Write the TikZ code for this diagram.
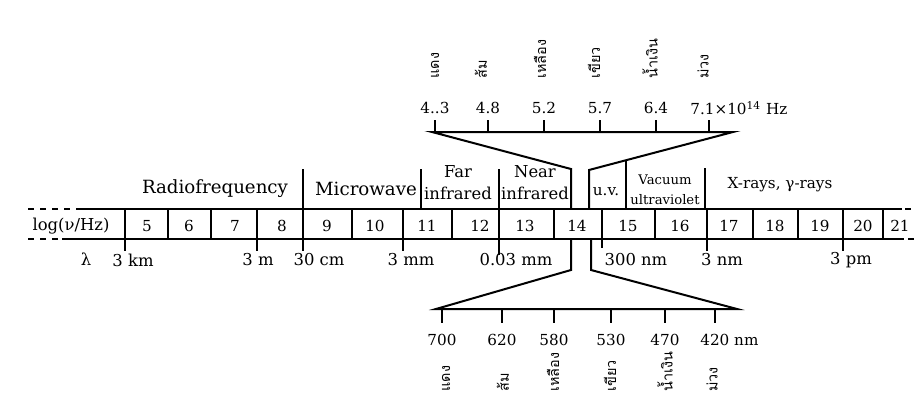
\documentclass[tikz,border=0pt]{standalone}
\usepackage{fontspec}
\setmainfont{DejaVu Serif}
\newfontfamily\thaifont[Script=Thai]{Loma}
\usepackage{tikz}

\begin{document}
\begin{tikzpicture}[x=0.5pt, y=-0.5pt,
  line/.style={line width=1pt},
  lbl/.style={font=\fontsize{8.2}{11}\selectfont, inner sep=0pt, align=center},
  big/.style={font=\fontsize{9.1}{11}\selectfont, inner sep=0pt},
  num/.style={font=\fontsize{7.6}{9}\selectfont, inner sep=0pt},
  small/.style={font=\fontsize{6.6}{10}\selectfont, inner sep=0pt, align=center},
  thai/.style={font=\thaifont\fontsize{7.2}{8}\selectfont, rotate=90, anchor=west, inner sep=0pt}
]
  \useasboundingbox (0,0) rectangle (918,412);

  % band
  \draw[line, dashed] (28,209) -- (80,209);
  \draw[line] (80,209) -- (902,209);
  \draw[line, dashed] (905,209) -- (914,209);
  \draw[line, dashed] (28,239) -- (62,239);
  \draw[line] (62,239) -- (904,239);
  \draw[line, dashed] (908,239) -- (918,239);
  \foreach \x in {125,168,211,257,303,352,403,452,499,554,602,655,707,753,798,843,883}
    \draw[line] (\x,209) -- (\x,239);
  \node[lbl] (logf) at (71,226) {log(ν/Hz)};
  \foreach \x/\n in {147/5,189/6,235/7,282/8,327/9,375/10,427/11,480/12,525/13,
                     577/14,628/15,680/16,729/17,775/18,820/19,863/20,900/21}
    \node[num] (c\n) at (\x,226) {\n};

  % regions
  \foreach \x/\y in {303/169,421/169,499/169,626/160,705/168}
    \draw[line] (\x,\y) -- (\x,209);
  \node[big] (radio) at (215,189) {Radiofrequency};
  \node[big] (micro) at (366,189) {Microwave};
  \node[lbl] (fir) at (458,183) {Far\\infrared};
  \node[lbl] (nir) at (535,183) {Near\\infrared};
  \node[num] (uv) at (606,192) {u.v.};
  \node[small] (vuv) at (665,190) {Vacuum\\ultraviolet};
  \node[num] (xray) at (780,185) {X-rays, γ-rays};

  % wavelength scale
  \foreach \x/\b in {125/251,257/251,303/251,403/251,499/255,602/248,707/251,843/251}
    \draw[line] (\x,239) -- (\x,\b);
  \node[lbl] (lam) at (86,259) {λ};
  \foreach \x/\w [count=\i] in {133/3 km,258/3 m,319/30 cm,411/3 mm,516/0.03 mm,
                                636/300 nm,722/3 nm,851/3 pm}
    \node[lbl] (w\i) at (\x,260) {\w};

  % visible part, frequency
  \coordinate (tl) at (432,132);
  \coordinate (tr) at (733,132);
  \draw[line] (571,209) -- (571,169) -- (tl) -- (tr) -- (589,170) -- (589,209);
  \foreach \x/\f [count=\i] in {435/{4..3},488/4.8,544/5.2,600/5.7,656/6.4,709/{}}
  {
    \draw[line] (\x,132) -- (\x,120);
    \node[num] (f\i) at (\x,108) {\f};
  }
  \node[num, anchor=west] (fhz) at (690,108) {7.1×10\textsuperscript{14} Hz};
  \foreach \x/\t [count=\i] in {435/แดง,481/ส้ม,540/เหลือง,594/เขียว,650/น้ำเงิน,703/ม่วง}
    \node[thai] (tf\i) at (\x,79) {\t};

  % visible part, wavelength
  \coordinate (bl) at (436,309);
  \coordinate (br) at (737,309);
  \draw[line] (571,239) -- (571,270) -- (bl) -- (br) -- (591,270) -- (591,239);
  \foreach \x/\l [count=\i] in {442/700,502/620,554/580,611/530,665/470,715/{}}
  {
    \draw[line] (\x,309) -- (\x,323);
    \node[num] (l\i) at (\x,340) {\l};
  }
  \node[num, anchor=west] (lnm) at (700,340) {420 nm};
  \foreach \x/\t [count=\i] in {446/แดง,503/ส้ม,553/เหลือง,610/เขียว,665/น้ำเงิน,712/ม่วง}
    \node[thai] (tl\i) at (\x,392) {\t};
\end{tikzpicture}
\end{document}
